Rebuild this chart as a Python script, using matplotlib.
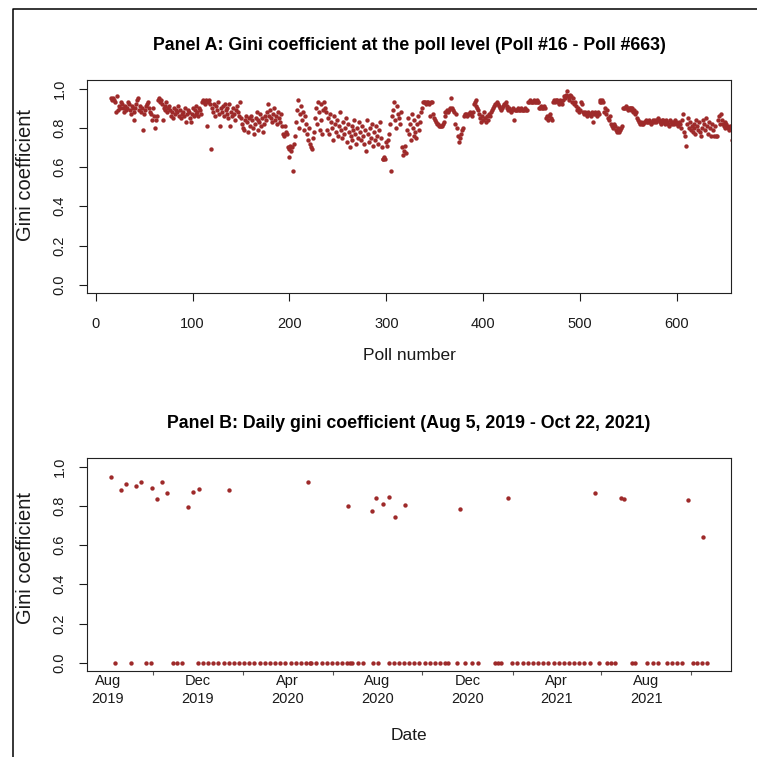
import matplotlib
matplotlib.use("Agg")
import matplotlib.pyplot as plt
import matplotlib.dates as mdates
from matplotlib.lines import Line2D
import numpy as np
import pandas as pd

plt.rcParams["font.family"] = ["Liberation Sans", "DejaVu Sans"]

# Panel A: gini coefficient per poll, starting at poll #16
FIRST_POLL = 16
GINI_POLL = [
    0.95, 0.94, 0.95, 0.94, 0.93, 0.88, 0.96, 0.89, 0.91, 0.90, 0.93, 0.92, 0.90, 0.88, 0.91, 0.89, 0.90, 0.93, 0.92, 0.89,
    0.87, 0.91, 0.90, 0.88, 0.84, 0.90, 0.92, 0.94, 0.95, 0.89, 0.91, 0.88, 0.90, 0.79, 0.87, 0.89, 0.91, 0.92, 0.93, 0.90,
    0.88, 0.87, 0.84, 0.90, 0.86, 0.80, 0.84, 0.86, 0.94, 0.95, 0.93, 0.94, 0.92, 0.84, 0.90, 0.91, 0.89, 0.93, 0.88, 0.90,
    0.91, 0.89, 0.86, 0.88, 0.85, 0.90, 0.87, 0.89, 0.88, 0.91, 0.86, 0.89, 0.85, 0.87, 0.88, 0.86, 0.90, 0.83, 0.87, 0.89,
    0.88, 0.85, 0.83, 0.87, 0.90, 0.86, 0.89, 0.91, 0.87, 0.88, 0.86, 0.90, 0.89, 0.87, 0.93, 0.94, 0.93, 0.92, 0.94, 0.81,
    0.93, 0.94, 0.92, 0.69, 0.90, 0.88, 0.92, 0.86, 0.91, 0.89, 0.93, 0.87, 0.81, 0.90, 0.88, 0.91, 0.86, 0.92, 0.89, 0.90,
    0.87, 0.85, 0.92, 0.81, 0.88, 0.86, 0.90, 0.87, 0.84, 0.89, 0.91, 0.88, 0.86, 0.93, 0.85, 0.82, 0.80, 0.79, 0.84, 0.86,
    0.83, 0.78, 0.85, 0.81, 0.86, 0.84, 0.80, 0.77, 0.82, 0.85, 0.88, 0.84, 0.79, 0.83, 0.87, 0.81, 0.85, 0.78, 0.82, 0.86,
    0.84, 0.88, 0.92, 0.86, 0.89, 0.85, 0.83, 0.87, 0.90, 0.84, 0.86, 0.82, 0.88, 0.85, 0.83, 0.87, 0.81, 0.77, 0.76, 0.81,
    0.78, 0.77, 0.70, 0.65, 0.69, 0.71, 0.68, 0.70, 0.58, 0.72, 0.76, 0.83, 0.89, 0.94, 0.80, 0.87, 0.91, 0.84, 0.88, 0.79,
    0.86, 0.82, 0.77, 0.74, 0.80, 0.72, 0.70, 0.69, 0.75, 0.78, 0.85, 0.90, 0.82, 0.93, 0.88, 0.79, 0.92, 0.84, 0.77, 0.89,
    0.93, 0.90, 0.88, 0.79, 0.85, 0.77, 0.87, 0.83, 0.80, 0.74, 0.86, 0.82, 0.78, 0.84, 0.76, 0.81, 0.88, 0.79, 0.75, 0.83,
    0.77, 0.80, 0.85, 0.73, 0.82, 0.78, 0.70, 0.76, 0.81, 0.74, 0.79, 0.84, 0.77, 0.72, 0.80, 0.75, 0.83, 0.78, 0.74, 0.81,
    0.76, 0.72, 0.79, 0.68, 0.84, 0.77, 0.73, 0.80, 0.75, 0.82, 0.71, 0.78, 0.74, 0.81, 0.76, 0.72, 0.79, 0.83, 0.75, 0.70,
    0.64, 0.64, 0.65, 0.64, 0.73, 0.71, 0.74, 0.77, 0.82, 0.58, 0.86, 0.89, 0.93, 0.84, 0.80, 0.91, 0.87, 0.85, 0.82, 0.88,
    0.70, 0.66, 0.68, 0.71, 0.67, 0.79, 0.85, 0.77, 0.82, 0.74, 0.87, 0.80, 0.76, 0.84, 0.78, 0.75, 0.82, 0.86, 0.79, 0.83,
    0.88, 0.90, 0.93, 0.93, 0.93, 0.92, 0.93, 0.93, 0.92, 0.86, 0.93, 0.93, 0.87, 0.85, 0.84, 0.83, 0.82, 0.82, 0.81, 0.81,
    0.81, 0.81, 0.82, 0.83, 0.86, 0.88, 0.88, 0.89, 0.88, 0.89, 0.90, 0.95, 0.90, 0.89, 0.88, 0.82, 0.87, 0.80, 0.76, 0.73,
    0.75, 0.77, 0.79, 0.80, 0.86, 0.87, 0.87, 0.86, 0.87, 0.87, 0.88, 0.87, 0.86, 0.88, 0.92, 0.93, 0.94, 0.91, 0.90, 0.89,
    0.87, 0.85, 0.83, 0.86, 0.84, 0.88, 0.85, 0.83, 0.86, 0.84, 0.87, 0.86, 0.88, 0.89, 0.90, 0.91, 0.92, 0.92, 0.93, 0.92,
    0.91, 0.90, 0.89, 0.90, 0.91, 0.92, 0.92, 0.93, 0.91, 0.90, 0.89, 0.90, 0.89, 0.88, 0.89, 0.90, 0.84, 0.89, 0.89, 0.89,
    0.90, 0.89, 0.89, 0.90, 0.89, 0.89, 0.89, 0.90, 0.89, 0.89, 0.93, 0.93, 0.94, 0.93, 0.93, 0.93, 0.94, 0.93, 0.93, 0.94,
    0.93, 0.93, 0.90, 0.90, 0.91, 0.90, 0.90, 0.91, 0.90, 0.85, 0.86, 0.84, 0.86, 0.87, 0.85, 0.84, 0.93, 0.94, 0.93, 0.94,
    0.94, 0.93, 0.92, 0.94, 0.93, 0.92, 0.94, 0.96, 0.95, 0.97, 0.99, 0.96, 0.95, 0.94, 0.97, 0.96, 0.93, 0.95, 0.92, 0.93,
    0.91, 0.89, 0.90, 0.88, 0.89, 0.93, 0.92, 0.88, 0.87, 0.88, 0.87, 0.86, 0.88, 0.87, 0.87, 0.86, 0.88, 0.83, 0.87, 0.88,
    0.87, 0.86, 0.88, 0.87, 0.93, 0.94, 0.93, 0.94, 0.93, 0.88, 0.90, 0.87, 0.89, 0.85, 0.84, 0.86, 0.82, 0.81, 0.80, 0.82,
    0.81, 0.79, 0.78, 0.80, 0.78, 0.79, 0.80, 0.81, 0.90, 0.90, 0.90, 0.91, 0.90, 0.89, 0.90, 0.90, 0.90, 0.89, 0.90, 0.88,
    0.89, 0.87, 0.88, 0.85, 0.84, 0.83, 0.82, 0.83, 0.82, 0.82, 0.83, 0.83, 0.84, 0.83, 0.83, 0.84, 0.83, 0.82, 0.83, 0.84,
    0.83, 0.84, 0.83, 0.84, 0.85, 0.84, 0.83, 0.82, 0.84, 0.83, 0.84, 0.83, 0.82, 0.84, 0.83, 0.82, 0.81, 0.84, 0.83, 0.82,
    0.83, 0.82, 0.84, 0.83, 0.82, 0.81, 0.83, 0.82, 0.80, 0.84, 0.87, 0.78, 0.76, 0.71, 0.82, 0.85, 0.80, 0.83, 0.79, 0.81,
    0.78, 0.82, 0.80, 0.77, 0.84, 0.81, 0.79, 0.83, 0.78, 0.76, 0.80, 0.84, 0.82, 0.79, 0.85, 0.81, 0.77, 0.83, 0.80, 0.76,
    0.82, 0.79, 0.76, 0.81, 0.76, 0.76, 0.84, 0.86, 0.82, 0.87, 0.84, 0.82, 0.81, 0.83, 0.80, 0.82, 0.81, 0.80, 0.79, 0.81,
    0.80, 0.74, 0.78, 0.81, 0.79, 0.77, 0.80, 0.82,
]

# Panel B: days with a positive gini coefficient
ACTIVE_DAYS = [
    "2019-08-05", "2019-08-19", "2019-08-25", "2019-09-08", "2019-09-15", "2019-09-30",
    "2019-10-06", "2019-10-13", "2019-10-20", "2019-11-18", "2019-11-25", "2019-12-02",
    "2020-01-13", "2020-04-29", "2020-06-22", "2020-07-25", "2020-07-30", "2020-08-08",
    "2020-08-17", "2020-08-25", "2020-09-07", "2020-11-21", "2021-01-25", "2021-05-23",
    "2021-06-27", "2021-07-02", "2021-09-27", "2021-10-17",
]
ACTIVE_GINI = [
    0.946, 0.883, 0.913, 0.903, 0.923, 0.893,
    0.837, 0.923, 0.866, 0.794, 0.871, 0.888,
    0.883, 0.922, 0.798, 0.774, 0.840, 0.811,
    0.845, 0.745, 0.803, 0.783, 0.840, 0.864,
    0.842, 0.835, 0.830, 0.640,
]
# days where the coefficient is zero
ZERO_DAYS = [
    "2019-08-11", "2019-09-02", "2019-09-22", "2019-09-29", "2019-10-28", "2019-11-03", "2019-11-10",
    "2019-12-01", "2019-12-08", "2019-12-15", "2019-12-22", "2019-12-29",
    "2020-01-05", "2020-01-12", "2020-01-19", "2020-01-26", "2020-02-02", "2020-02-09", "2020-02-16",
    "2020-02-23", "2020-03-01", "2020-03-08", "2020-03-15", "2020-03-22", "2020-03-29", "2020-04-05",
    "2020-04-12", "2020-04-19", "2020-04-26", "2020-05-01", "2020-05-03", "2020-05-10", "2020-05-17",
    "2020-05-24", "2020-05-31", "2020-06-07", "2020-06-14", "2020-06-21", "2020-06-25", "2020-06-28",
    "2020-07-05", "2020-07-12", "2020-07-26", "2020-08-02", "2020-08-16", "2020-08-23", "2020-08-30",
    "2020-09-06", "2020-09-13", "2020-09-20", "2020-09-27", "2020-10-04", "2020-10-11", "2020-10-18",
    "2020-10-25", "2020-11-01", "2020-11-05", "2020-11-17", "2020-11-28", "2020-12-07", "2020-12-16",
    "2021-01-08", "2021-01-12", "2021-01-16", "2021-01-31", "2021-02-07", "2021-02-14", "2021-02-21",
    "2021-02-28", "2021-03-07", "2021-03-14", "2021-03-21", "2021-03-28", "2021-04-04", "2021-04-11",
    "2021-04-18", "2021-04-25", "2021-05-02", "2021-05-09", "2021-05-16", "2021-05-29", "2021-06-09",
    "2021-06-14", "2021-06-19", "2021-07-12", "2021-07-16", "2021-08-02", "2021-08-10", "2021-08-17",
    "2021-08-29", "2021-09-05", "2021-09-12", "2021-09-19", "2021-10-03", "2021-10-09", "2021-10-15",
    "2021-10-22",
]

POINT_COLOR = "#9e2a2a"
TEXT_COLOR = "#1a1a1a"
W = H = 757


def px_box(left, top, right, bottom):
    """Axes rectangle from pixel edges (origin top-left)."""
    return [left / W, 1 - bottom / H, (right - left) / W, (bottom - top) / H]


def style_axes(ax):
    for sp in ax.spines.values():
        sp.set_linewidth(0.8)
        sp.set_color("#222222")
    ax.tick_params(colors=TEXT_COLOR, labelsize=10.5, width=0.8)
    ax.set_ylim(-0.042, 1.044)
    ax.set_yticks([0.0, 0.2, 0.4, 0.6, 0.8, 1.0])
    ax.set_yticklabels([f"{v:.1f}" for v in ax.get_yticks()], rotation=90, va="center")
    ax.tick_params(axis="y", length=6, pad=9)


fig = plt.figure(figsize=(W / 100, H / 100), dpi=100)

# outer frame (left and top edges)
fig.add_artist(Line2D([13.3 / W, 13.3 / W, 1.0], [0.0, 1 - 8.5 / H, 1 - 8.5 / H],
                      color="black", lw=1.1, transform=fig.transFigure))

# ---- Panel A
ax1 = fig.add_axes(px_box(87.3, 80, 731, 293))
polls = np.arange(FIRST_POLL, FIRST_POLL + len(GINI_POLL))
ax1.scatter(polls, GINI_POLL, s=10, color=POINT_COLOR, linewidths=0)
ax1.set_xlim(-8.7, 655.7)
ax1.set_xticks(range(0, 700, 100))
style_axes(ax1)
ax1.tick_params(axis="x", length=6, pad=11)

fig.text(409 / W, 1 - 46 / H, "Panel A: Gini coefficient at the poll level (Poll #16 - Poll #663)",
         ha="center", va="center", fontsize=12.8, fontweight="bold", color="black")
fig.text(409 / W, 1 - 355 / H, "Poll number", ha="center", va="center", fontsize=12.5, color=TEXT_COLOR)
fig.text(26 / W, 1 - 175 / H, "Gini coefficient", ha="center", va="center", rotation=90,
         fontsize=14.5, color=TEXT_COLOR)

# ---- Panel B
ax2 = fig.add_axes(px_box(87.3, 458, 731, 671))
active = pd.to_datetime(ACTIVE_DAYS)
zeros = pd.to_datetime(ZERO_DAYS)
ax2.scatter(active, ACTIVE_GINI, s=10, color=POINT_COLOR, linewidths=0)
ax2.scatter(zeros, np.zeros(len(zeros)), s=10, color=POINT_COLOR, linewidths=0)
ax2.set_xlim(pd.Timestamp("2019-07-04"), pd.Timestamp("2021-11-24"))
ax2.xaxis.set_major_locator(mdates.MonthLocator(bymonth=[4, 8, 12]))
ax2.xaxis.set_major_formatter(mdates.DateFormatter("%b\n%Y"))
ax2.xaxis.set_minor_locator(mdates.MonthLocator(bymonth=[2, 6, 10]))
style_axes(ax2)
ax2.tick_params(axis="x", which="major", length=0, pad=2, labelsize=10.5)
ax2.tick_params(axis="x", which="minor", length=3, width=0.8, color="#555555")
for lbl in ax2.get_xticklabels():
    lbl.set_linespacing(1.35)

fig.text(409 / W, 1 - 423 / H, "Panel B: Daily gini coefficient (Aug 5, 2019 - Oct 22, 2021)",
         ha="center", va="center", fontsize=12.8, fontweight="bold", color="black")
fig.text(409 / W, 1 - 735 / H, "Date", ha="center", va="center", fontsize=12.5, color=TEXT_COLOR)
fig.text(26 / W, 1 - 558 / H, "Gini coefficient", ha="center", va="center", rotation=90,
         fontsize=14.5, color=TEXT_COLOR)

fig.savefig("out.png", dpi=100)
